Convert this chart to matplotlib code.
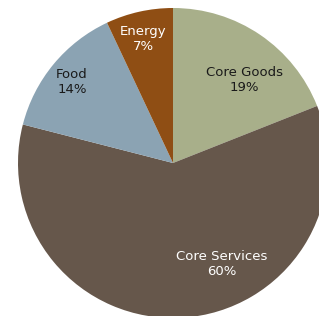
import matplotlib.pyplot as plt

categories = ['Core Goods', 'Core Services', 'Food', 'Energy']
shares = [19, 60, 14, 7]
colors = ['#a8af8a', '#66574b', '#8ba3b3', '#8f4e14']
text_colors = ['#1a1a1a', 'white', '#1a1a1a', 'white']
# label centres in pixel coords (x, y from top)
label_pos = [(244, 80), (222, 264), (72, 82), (143, 39)]

W, H = 319, 316
fig = plt.figure(figsize=(W / 100, H / 100), dpi=100)
ax = fig.add_axes([0, 0, 1, 1])

ax.pie(shares, colors=colors, startangle=90, counterclock=False,
       center=(173, H - 163), radius=155, frame=True,
       wedgeprops=dict(linewidth=0))
ax.set_xlim(0, W)
ax.set_ylim(0, H)
ax.set_aspect('equal')
ax.axis('off')

for cat, s, (x, y), tc in zip(categories, shares, label_pos, text_colors):
    ax.text(x, H - y, '%s\n%d%%' % (cat, s), ha='center', va='center',
            fontsize=9.5, color=tc, linespacing=1.25)

fig.savefig('out.png', dpi=100)
